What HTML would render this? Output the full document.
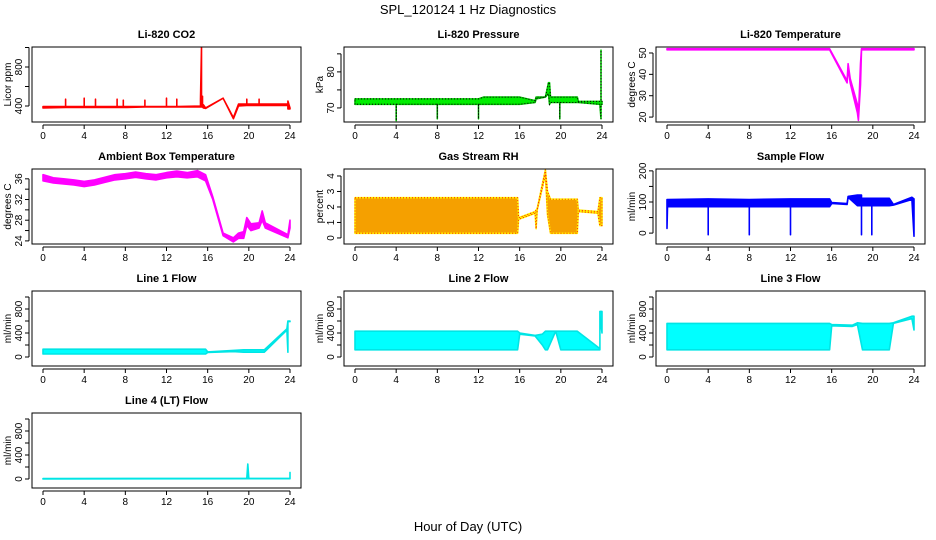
<!DOCTYPE html>
<html><head><meta charset="utf-8"><style>
body{margin:0;background:#fff;width:936px;height:540px;overflow:hidden}
svg{display:block;font-family:"Liberation Sans",Arial,sans-serif}
</style></head><body>
<svg id="chart" width="936" height="540" viewBox="0 0 936 540" xmlns="http://www.w3.org/2000/svg">
<text x="468" y="14" font-size="13" text-anchor="middle">SPL_120124  1 Hz Diagnostics</text>
<text x="468" y="531" font-size="13" text-anchor="middle">Hour of Day (UTC)</text>
</svg>
<script>
// ---- data arrays (hour, low, high) ----
const co2T =[0,2.2,2.2,2.2,4,4,4,5.1,5.1,5.1,7.2,7.2,7.2,7.8,7.8,7.8,9.9,9.9,9.9,12,12,12,13,13,13,15.3,15.3,15.4,15.4,15.5,15.5,15.6,15.8,17.5,18.5,19,19.8,19.8,19.8,21,21,21,23.8,23.8,24];
const co2Lo=[380,385,385,385,385,385,385,385,385,385,385,385,385,385,385,385,390,390,390,390,390,390,390,390,390,390,390,390,390,390,390,380,375,480,270,400,405,405,405,405,405,405,405,370,370];
const co2Hi=[395,395,470,395,395,480,395,395,470,395,395,470,395,395,460,395,395,460,395,395,480,395,395,470,395,400,470,1000,400,500,420,410,380,480,280,420,420,470,420,420,470,420,420,450,380];

const presT =[0,4,4,4,8,8,8,12,12,12,12.5,16,17.5,17.6,18.5,18.8,18.9,19,19.9,19.9,19.9,21.6,21.7,23.8,23.9,23.9,23.9,24];
const presLo=[71,71,66.5,71,71,67,71,71,67,71,71,71,71.5,72.5,73,74,71,71.5,71.5,67,71.5,71.5,71.5,71,67,71,71,71];
const presHi=[72.5,72.5,72.5,72.5,72.5,72.5,72.5,72.5,72.5,72.5,73,73,72,73,73,77,77,73,73,73,73,73,71.8,71.8,71.8,86,71.8,71.8];

const ltT =[0,15.8,17.5,17.6,17.8,18.5,18.6,18.8,18.9,24];
const ltLo=[51.5,51.5,36,43,36,22,18.5,35,51.5,51.5];
const ltHi=[52,52,37,45,38,26,20,45,52,52];

const ambT =[0,1,2,3,4,5,6,7,8,9,10,11,12,13,14,15,15.8,16.5,17.5,18.5,19,19.5,19.8,20.2,21,21.3,21.6,23.8,24];
const ambLo=[35.6,35.2,35,34.8,34.5,34.8,35.3,35.8,36,36.3,36,35.8,36.2,36.4,36.2,36.4,35.6,32,25,23.8,24.5,24.5,27,26,26.5,28,26.5,24.6,26.5];
const ambHi=[36.8,36.2,36,35.8,35.5,35.8,36.3,36.8,37,37.3,37,36.8,37.2,37.5,37.2,37.6,36.8,32.5,25.5,24.6,25.5,25.8,28.5,27.3,27.5,29.8,27.5,25.2,28];

const rhT =[0,15.8,15.9,17.5,17.6,17.7,18.5,18.7,19,21.6,21.7,23.6,23.8,24];
const rhLo=[0.3,0.3,1.2,1.6,0.6,1.8,4.1,1.5,0.3,0.3,1.7,1.6,0.8,0.8];
const rhHi=[2.6,2.6,1.3,1.7,1.8,1.9,4.4,3,2.5,2.5,1.8,1.7,2.6,2.6];

const sfT =[0,0.05,4,4,4,8,8,8,12,12,12,15.8,16,17.5,17.6,18.5,18.9,18.9,18.9,19.9,19.9,19.9,21.6,22,23.8,24,24];
const sfLo=[15,85,85,-5,85,85,-5,85,85,-5,85,85,95,92,115,88,88,-5,88,88,-5,88,88,90,108,-10,-10];
const sfHi=[108,108,110,110,110,108,108,108,110,110,110,110,98,95,118,122,122,122,112,112,112,112,112,92,115,110,10];

const l1T =[0,15.8,16,18.5,19.5,21.5,23.7,23.8,23.8,24];
const l1Lo=[50,50,75,90,80,80,450,80,590,590];
const l1Hi=[130,130,85,110,120,120,470,600,600,600];

const l2T =[0,15.8,16,17.5,18.2,18.5,18.7,19.5,20,21.6,23.8,23.8,24];
const l2Lo=[120,120,380,350,200,120,120,430,120,120,120,700,400];
const l2Hi=[430,430,400,360,380,430,430,430,430,430,140,760,760];

const l3T =[0,15.8,16,18,18.5,19,21.6,22,23.8,24];
const l3Lo=[120,120,520,510,540,120,120,560,640,450];
const l3Hi=[560,560,540,530,570,560,560,570,680,680];

const l4T =[0,19.8,19.9,20,24,24,24];
const l4Lo=[0,5,5,5,5,5,5];
const l4Hi=[8,10,250,10,10,110,10];

const xTicks=[0,4,8,12,16,20,24];

const panels=[
 {name:'co2',title:'Li-820 CO2',ylab:'Licor ppm',c:0,r:0,ymin:236,ymax:1005,ticks:[400,600,800,1000],labels:[400,800],t:co2T,lo:co2Lo,hi:co2Hi,col:'#ff0000',stroke:'#ff0000'},
 {name:'pressure',title:'Li-820 Pressure',ylab:'kPa',c:1,r:0,ymin:66.1,ymax:86.9,ticks:[70,75,80,85],labels:[70,80],t:presT,lo:presLo,hi:presHi,col:'#00ee00',stroke:'#00cc00',dots:'#000'},
 {name:'li-temperature',title:'Li-820 Temperature',ylab:'degrees C',c:2,r:0,ymin:17.7,ymax:52.8,ticks:[20,30,40,50],labels:[20,30,40,50],t:ltT,lo:ltLo,hi:ltHi,col:'#ff00ff',stroke:'#ff00ff'},
 {name:'ambient-temperature',title:'Ambient Box Temperature',ylab:'degrees C',c:0,r:1,ymin:23.4,ymax:37.9,ticks:[24,26,28,30,32,34,36],labels:[24,28,32,36],t:ambT,lo:ambLo,hi:ambHi,col:'#ff00ff',stroke:'#ff00ff'},
 {name:'gas-rh',title:'Gas Stream RH',ylab:'percent',c:1,r:1,ymin:-0.39,ymax:4.45,ticks:[0,1,2,3,4],labels:[0,1,2,3,4],t:rhT,lo:rhLo,hi:rhHi,col:'#f5a000',stroke:'#ffee00',dots:'#ff2000'},
 {name:'sample-flow',title:'Sample Flow',ylab:'ml/min',c:2,r:1,ymin:-35,ymax:206,ticks:[0,50,100,150,200],labels:[0,100,200],t:sfT,lo:sfLo,hi:sfHi,col:'#0000ff',stroke:'#0000ff'},
 {name:'line1-flow',title:'Line 1 Flow',ylab:'ml/min',c:0,r:2,ymin:-150,ymax:1100,ticks:[0,200,400,600,800,1000],labels:[0,400,800],t:l1T,lo:l1Lo,hi:l1Hi,col:'#00ffff',stroke:'#00e5e5'},
 {name:'line2-flow',title:'Line 2 Flow',ylab:'ml/min',c:1,r:2,ymin:-150,ymax:1100,ticks:[0,200,400,600,800,1000],labels:[0,400,800],t:l2T,lo:l2Lo,hi:l2Hi,col:'#00ffff',stroke:'#00e5e5'},
 {name:'line3-flow',title:'Line 3 Flow',ylab:'ml/min',c:2,r:2,ymin:-150,ymax:1100,ticks:[0,200,400,600,800,1000],labels:[0,400,800],t:l3T,lo:l3Lo,hi:l3Hi,col:'#00ffff',stroke:'#00e5e5'},
 {name:'line4-flow',title:'Line 4 (LT) Flow',ylab:'ml/min',c:0,r:3,ymin:-150,ymax:1100,ticks:[0,200,400,600,800,1000],labels:[0,400,800],t:l4T,lo:l4Lo,hi:l4Hi,col:'#00ffff',stroke:'#00e5e5'}
];

const svg=document.getElementById('chart');
const NS='http://www.w3.org/2000/svg';
function mk(tag,attrs,parent){const e=document.createElementNS(NS,tag);for(const k in attrs)e.setAttribute(k,attrs[k]);(parent||svg).appendChild(e);return e;}

panels.forEach(p=>{
  const ox=312*p.c, oy=122*p.r;
  const bx0=32+ox,bx1=301+ox,by0=47+oy,by1=122+oy;
  const xs=h=>43+ox+h*(247/24);
  const ys=v=>by1-(v-p.ymin)/(p.ymax-p.ymin)*(by1-by0);
  const g=mk('g',{});
  
  
  const tt=mk('text',{x:(bx0+bx1)/2,y:by0-9,'font-size':11,'font-weight':'bold','text-anchor':'middle'},g);
  tt.textContent=p.title;
  
  
  let pts=[];
  for(let i=0;i<p.t.length;i++)pts.push(xs(p.t[i]).toFixed(1)+','+ys(p.hi[i]).toFixed(1));
  for(let i=p.t.length-1;i>=0;i--)pts.push(xs(p.t[i]).toFixed(1)+','+ys(p.lo[i]).toFixed(1));
  const band=mk('polygon',{points:pts.join(' '),fill:p.col,stroke:p.stroke,'stroke-width':1.6,'stroke-linejoin':'round'},g);
  
  
  if(p.dots){
    const d=mk('polygon',{points:pts.join(' '),fill:'none',stroke:p.dots,'stroke-width':1,'stroke-dasharray':'1 2'},g);
    
    
  }
  const box=mk('rect',{x:bx0,y:by0,width:bx1-bx0,height:by1-by0,fill:'none',stroke:'#000','stroke-width':1},g);
  
  
  const xa=mk('g',{},g);
  
  
  mk('line',{x1:xs(0),x2:xs(24),y1:by1+3,y2:by1+3,stroke:'#000'},xa);
  xTicks.forEach(v=>{
    mk('line',{x1:xs(v),x2:xs(v),y1:by1+3,y2:by1+7,stroke:'#000'},xa);
    const t=mk('text',{x:xs(v),y:by1+17,'font-size':10,'text-anchor':'middle'},xa);
    t.textContent=v;
  });
  const ya=mk('g',{},g);
  
  
  mk('line',{x1:bx0-3,x2:bx0-3,y1:ys(p.ticks[0]),y2:ys(p.ticks[p.ticks.length-1]),stroke:'#000'},ya);
  p.ticks.forEach(v=>mk('line',{x1:bx0-7,x2:bx0-3,y1:ys(v),y2:ys(v),stroke:'#000'},ya));
  p.labels.forEach(v=>{
    const X=bx0-10,Y=ys(v);
    const t=mk('text',{x:X,y:Y,'font-size':10,'text-anchor':'middle',transform:`rotate(-90 ${X} ${Y})`},ya);
    t.textContent=v;
  });
  const yl=mk('text',{x:11+ox,y:(by0+by1)/2,'font-size':10,'text-anchor':'middle',transform:`rotate(-90 ${11+ox} ${(by0+by1)/2})`},g);
  yl.textContent=p.ylab;
  
  
});
</script>
</body></html>
